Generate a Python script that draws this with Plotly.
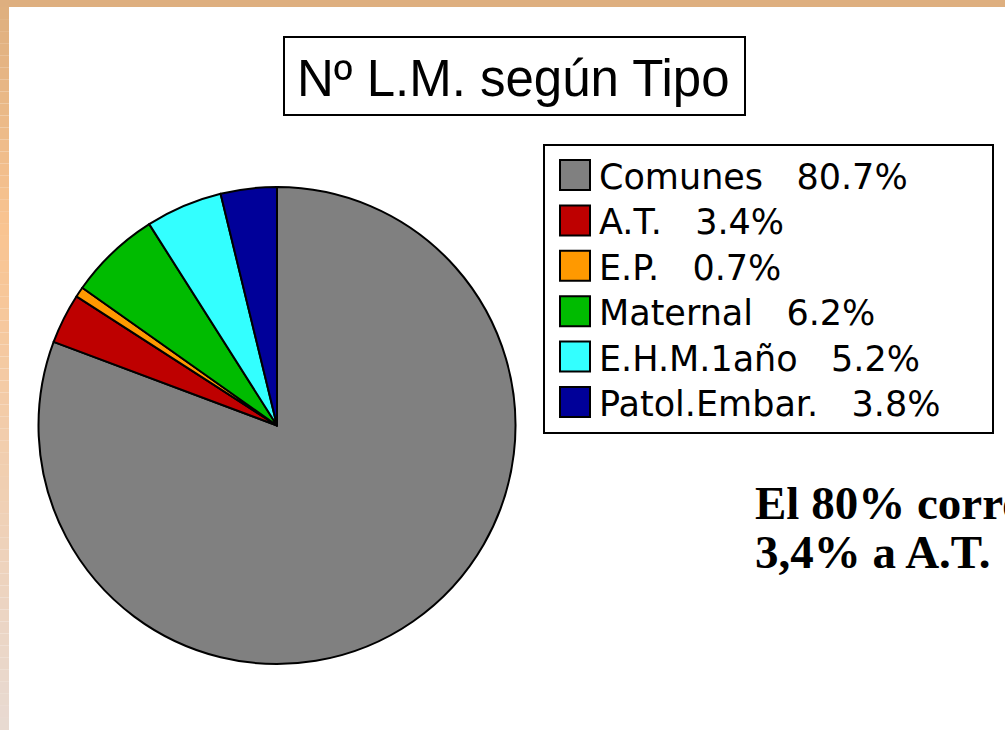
import plotly.graph_objects as go

# ---- data ----
categories = ["Comunes", "A.T.", "E.P.", "Maternal", "E.H.M.1año", "Patol.Embar."]
values = [80.7, 3.4, 0.7, 6.2, 5.2, 3.8]
colors = ["#808080", "#BE0000", "#FF9900", "#00BB00", "#33FFFF", "#000099"]
title_text = "Nº L.M. según Tipo"
note_lines = ["El 80% corresponde", "3,4% a A.T."]

W, H = 1005, 730

def px(x):
    return x / W

def py(y):
    return 1 - y / H

fig = go.Figure()
fig.add_trace(go.Pie(
    labels=categories,
    values=values,
    marker=dict(colors=colors, line=dict(color="black", width=2)),
    sort=False,
    direction="clockwise",
    rotation=0,
    textinfo="none",
    hoverinfo="label+percent",
    showlegend=False,
    domain=dict(x=[px(38), px(516)], y=[py(664), py(187)]),
))

shapes = []
annotations = []

# decorative frame: top band and left gradient band
shapes.append(dict(type="rect", xref="paper", yref="paper",
                   x0=0, x1=1, y0=py(7), y1=1, line=dict(width=0),
                   fillcolor="#DEAF7F", layer="above"))

def lerp(c1, c2, t):
    return tuple(int(round(a + (b - a) * t)) for a, b in zip(c1, c2))

stops = [(7, (222, 175, 127)), (230, (249, 196, 145)), (730, (232, 218, 210))]
n = 60
for i in range(n):
    y0 = 7 + (H - 7) * i / n
    y1 = 7 + (H - 7) * (i + 1) / n
    ym = (y0 + y1) / 2
    for (a, ca), (b, cb) in zip(stops[:-1], stops[1:]):
        if a <= ym <= b:
            c = lerp(ca, cb, (ym - a) / (b - a))
            break
    shapes.append(dict(type="rect", xref="paper", yref="paper",
                       x0=0, x1=px(9), y0=py(y1), y1=py(y0),
                       line=dict(width=0), fillcolor="rgb(%d,%d,%d)" % c,
                       layer="above"))

# title box
shapes.append(dict(type="rect", xref="paper", yref="paper",
                   x0=px(284), x1=px(745), y0=py(115), y1=py(37),
                   line=dict(color="black", width=2), fillcolor="white"))
annotations.append(dict(text=title_text, xref="paper", yref="paper",
                        x=px(513), y=py(79), xanchor="center", yanchor="middle",
                        showarrow=False,
                        font=dict(family="Liberation Sans", size=51, color="black")))

# legend box
shapes.append(dict(type="rect", xref="paper", yref="paper",
                   x0=px(544), x1=px(993), y0=py(433), y1=py(145),
                   line=dict(color="black", width=2), fillcolor="white"))
row0, step = 175, 45.4
for i, (cat, val, col) in enumerate(zip(categories, values, colors)):
    yc = row0 + i * step
    shapes.append(dict(type="rect", xref="paper", yref="paper",
                       x0=px(560), x1=px(590), y0=py(yc + 15), y1=py(yc - 15),
                       line=dict(color="black", width=2), fillcolor=col))
    annotations.append(dict(text=f"{cat}\u00a0\u00a0\u00a0{val}%", xref="paper", yref="paper",
                            x=px(597), y=py(yc + 2), xanchor="left", yanchor="middle",
                            showarrow=False,
                            font=dict(family="DejaVu Sans", size=35, color="black")))

# note text
for i, line in enumerate(note_lines):
    annotations.append(dict(text="<b>" + line + "</b>", xref="paper", yref="paper",
                            x=px(753), y=py(503 + i * 49), xanchor="left", yanchor="middle",
                            showarrow=False,
                            font=dict(family="Liberation Serif", size=47, color="black")))

fig.update_layout(
    width=W, height=H,
    margin=dict(l=0, r=0, t=0, b=0),
    paper_bgcolor="white", plot_bgcolor="white",
    shapes=shapes, annotations=annotations,
)

fig.write_html("out.html",
               config={"displayModeBar": False},
               post_script="document.body.style.margin='0';document.body.style.overflow='hidden';")
